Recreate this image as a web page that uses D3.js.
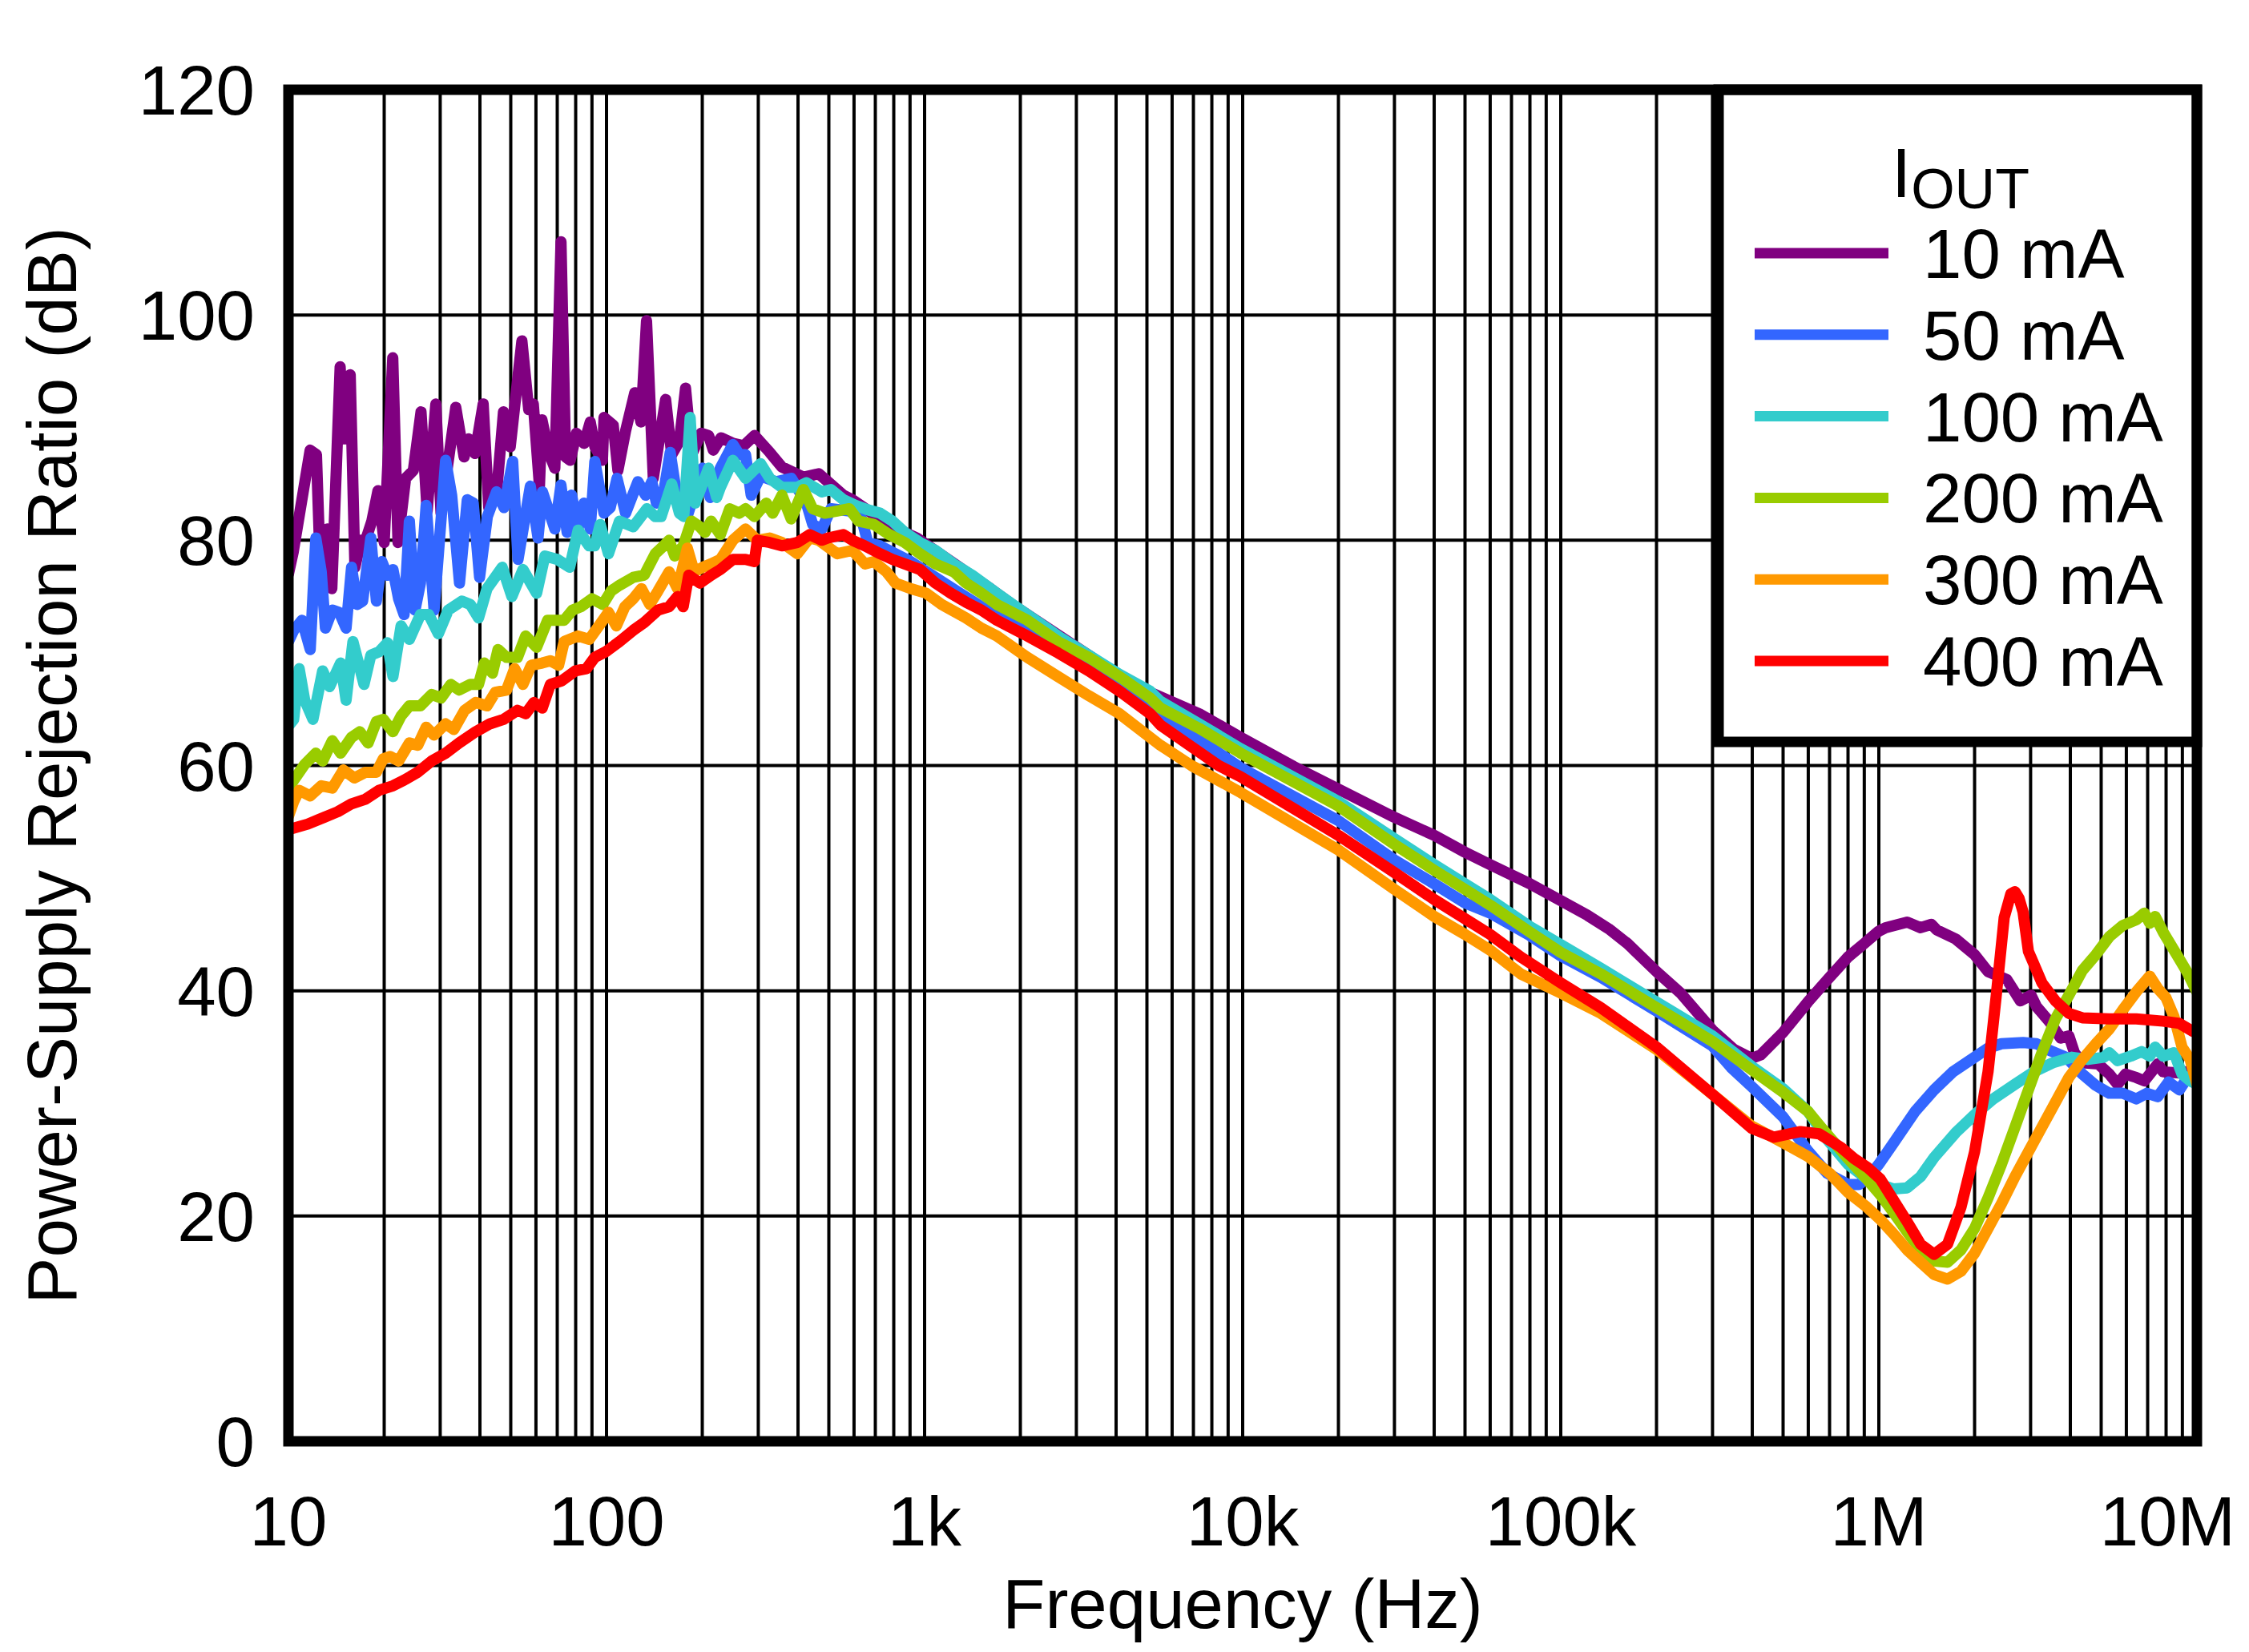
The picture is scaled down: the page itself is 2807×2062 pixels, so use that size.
<!DOCTYPE html>
<html>
<head>
<meta charset="utf-8">
<script src="https://cdn.jsdelivr.net/npm/d3@7"></script>
<style>
  html, body { margin: 0; padding: 0; background: #ffffff; }
  svg { display: block; }
  text { font-family: "Liberation Sans", Arial, sans-serif; fill: #000; }
</style>
</head>
<body>
<svg id="chart" width="2807" height="2062"></svg>
<script>
// ---------------- DATA ----------------
const seriesNames = ["10 mA", "50 mA", "100 mA", "200 mA", "300 mA", "400 mA"];
const seriesColors = ["#800080", "#3366ff", "#33cccc", "#99cc00", "#ff9900", "#ff0000"];
const xTickValues = [10, 100, 1e3, 1e4, 1e5, 1e6, 1e7];
const xTickLabels = ["10", "100", "1k", "10k", "100k", "1M", "10M"];
const yTickValues = [0, 20, 40, 60, 80, 100, 120];
const xTitle = "Frequency (Hz)";
const yTitle = "Power-Supply Rejection Ratio (dB)";

// [frequency Hz, PSRR dB]
const psrr10mA = [[10,77],[10.36,79],[11.7,88.0],[12.25,87.6],[12.66,75.5],[13.24,81.0],[13.69,75.7],[14.54,95.4],[14.96,89.0],[15.64,94.7],[16.18,77.6],[16.91,80.0],[17.48,80.0],[18.29,81.7],[19.12,84.4],[20,79.8],[21.28,96.2],[22.1,79.8],[23.36,85.5],[24.7,86.2],[26.11,91.4],[27.3,82.6],[29.06,92.1],[30.18,82.4],[33.58,91.8],[35.67,87.4],[36.88,89.0],[38.57,87.7],[40.95,92.1],[42.63,82.9],[45.07,84.0],[47.43,91.4],[49.81,88.3],[54.2,97.7],[56.93,91.6],[58.87,92.1],[61.55,84.8],[62.66,90.7],[65.8,87.8],[68.8,86.4],[71.93,106.5],[74.37,87.4],[76.9,87.1],[80.4,89.5],[85,88.6],[88.9,90.5],[91.9,88.3],[97.1,87.1],[98.2,90.9],[105,90.2],[108.6,86.2],[114.8,89.7],[122.7,93.1],[128.3,90.5],[133.6,99.5],[140.3,85.5],[153.4,92.5],[160.3,87.6],[169.5,88.8],[177.2,93.5],[185.3,87.6],[198.2,89.5],[209.4,89.3],[216.6,88.0],[229,89.1],[250,88.6],[270,88.4],[292,89.3],[326,87.8],[356,86.5],[416,85.6],[465,85.9],[555,84.0],[593,83.6],[725,81.9],[866,80.7],[946,80.2],[1612,75.7],[1883,74.3],[3281,69.8],[4097,67.9],[5115,66.5],[6387,65.3],[7297,64.6],[9850,62.5],[14500,59.9],[20000,57.9],[30000,55.4],[40000,53.8],[50000,52.3],[60000,51.2],[80000,49.5],[100000,48.0],[121300,46.7],[141500,45.5],[162000,44.2],[200000,41.7],[238000,39.8],[300000,36.5],[350000,34.8],[398000,34.0],[425000,34.3],[500000,36.3],[598000,39.0],[700000,41.2],[800000,43.0],[900000,44.2],[1000000,45.3],[1050000,45.6],[1227000,46.1],[1353000,45.6],[1463000,45.9],[1521000,45.4],[1744000,44.6],[2000000,43.2],[2204000,41.7],[2526000,41.0],[2785000,39.1],[3010000,39.6],[3130000,38.6],[3450000,37.2],[3730000,35.8],[3958000,36.0],[4120000,34.5],[4363000,33.6],[4900000,33.5],[5303000,32.6],[5630000,31.7],[5960000,32.6],[6446000,32.3],[6835000,32.0],[7530000,33.5],[7836000,32.8],[8810000,32.7],[10000000,33.0]];

const psrr50mA = [[10,71],[10.39,72.0],[11.03,72.9],[11.71,70.3],[12.19,80.2],[12.68,77.2],[13.07,72.2],[13.74,73.8],[14.44,73.6],[15.18,72.2],[15.79,77.6],[16.44,74.3],[17.11,74.6],[18.16,80.2],[18.9,74.6],[19.67,78.1],[20.48,76.9],[21.31,77.4],[22.2,74.8],[23.1,73.4],[24.0,81.7],[25.0,73.8],[26.0,76.2],[27.1,83.1],[28.7,73.8],[31.2,87.1],[32.6,84.0],[34.5,76.2],[36.5,83.6],[38.1,83.3],[39.9,76.7],[42.2,82.1],[45.1,84.3],[47.6,82.9],[50.7,87.0],[52.7,78.3],[57.6,84.8],[60.9,80.2],[62.9,84.3],[68.8,81.0],[71.9,84.9],[75.2,80.7],[77.7,84.0],[81.3,81.0],[85.0,83.3],[88.9,81.0],[91.9,87.0],[98.2,82.4],[102.7,82.9],[107.9,85.5],[114.8,82.4],[125.5,85.2],[132.7,84.0],[138.8,85.2],[143.5,83.3],[151.7,84.5],[158.6,87.8],[167.7,83.3],[179.2,82.1],[200.3,86.4],[211.8,83.8],[228,86.4],[249.6,88.5],[261.5,87.6],[273.6,87.6],[285,84.0],[305,85.7],[341,85.2],[381,85.5],[425,83.3],[445,81.4],[475,81.0],[508,82.8],[580,82.6],[634,81.9],[663,79.8],[725,79.5],[810,78.8],[905,78.1],[1081,76.7],[1291,75.3],[1508,74.1],[1883,72.6],[2351,71.0],[2936,69.4],[3666,67.9],[4578,66.3],[5510,64.5],[7134,62.5],[9850,59.8],[20000,55.1],[30000,51.6],[40000,49.5],[50000,47.8],[60000,46.9],[80000,44.9],[100000,43.1],[133600,41.2],[200000,38.2],[300000,35.1],[343000,33.2],[398000,31.5],[500000,28.8],[598000,25.8],[688000,23.8],[800000,22.8],[867000,22.8],[938000,23.6],[1000000,24.6],[1113000,26.5],[1301000,29.3],[1492000,31.2],[1709000,32.8],[2000000,34.1],[2204000,34.9],[2430000,35.3],[2840000,35.4],[3130000,35.3],[3450000,34.7],[3880000,34.1],[4363000,32.6],[4810000,31.6],[5303000,30.9],[5847000,30.9],[6446000,30.4],[6960000,30.9],[7530000,30.6],[8140000,31.9],[8810000,31.2],[9340000,32.3],[10000000,32.0]];

const psrr100mA = [[10,63.5],[10.39,64.1],[10.81,68.6],[11.25,65.8],[11.94,64.1],[12.81,68.4],[13.47,67.0],[14.59,69.1],[15.18,65.8],[15.95,71.0],[17.28,67.2],[18.16,69.8],[19.28,70.1],[20.48,70.9],[21.31,67.9],[22.6,72.4],[24.0,71.2],[26.0,73.4],[27.6,73.4],[29.6,71.7],[31.8,73.8],[35.1,74.6],[37.3,74.3],[39.6,73.1],[42.1,75.7],[47.0,77.6],[50.4,75.0],[54.6,77.4],[60.3,75.3],[64.0,78.6],[70.0,78.3],[76.6,77.6],[81.4,80.9],[88.2,79.5],[91.8,79.5],[95.5,81.4],[101.4,78.8],[109.8,81.7],[121.3,81.2],[134.0,82.8],[142.3,82.1],[148.5,82.1],[160.3,85.0],[169.5,82.4],[175,82.1],[183.2,90.9],[190,83.3],[209.4,86.4],[222,83.8],[228,84.7],[249.6,87.1],[273.6,85.5],[305,86.8],[326,85.5],[356,84.7],[398,84.7],[425,85.1],[475,84.3],[508,84.5],[555,83.6],[607,83.1],[663,82.7],[725,82.4],[792,81.7],[866,80.7],[967,79.8],[1081,79.1],[1235,77.9],[1411,76.9],[1686,75.3],[2104,73.4],[2627,71.5],[3281,69.8],[4097,68.1],[5115,66.6],[5510,65.7],[7297,63.7],[9850,61.5],[20000,56.8],[30000,53.5],[40000,51.2],[50000,49.5],[60000,48.1],[80000,45.7],[100000,44.1],[133600,42.0],[200000,39.0],[300000,36.0],[398000,33.3],[500000,31.3],[598000,29.3],[688000,26.8],[800000,24.6],[916000,23.3],[1010000,22.8],[1113000,22.4],[1227000,22.5],[1353000,23.5],[1492000,25.2],[1744000,27.4],[2000000,29.0],[2290000,30.4],[2679000,31.7],[3070000,32.8],[3520000,33.6],[4040000,34.1],[4540000,33.9],[5100000,34.1],[5303000,34.5],[5630000,33.8],[6200000,34.2],[6700000,34.6],[7107000,34.2],[7390000,35.0],[7836000,34.2],[8470000,34.5],[8980000,32.6],[9520000,32.0],[10000000,31.7]];

const psrr200mA = [[10,58.0],[10.39,58.7],[11.25,60.1],[12.19,61.1],[12.81,60.4],[13.74,62.2],[14.59,61.1],[15.79,62.5],[16.77,63.0],[17.8,62.0],[18.9,63.9],[19.87,64.1],[21.31,63.0],[22.6,64.4],[24.0,65.3],[26.0,65.3],[28.2,66.3],[30.2,66.0],[32.4,67.2],[34.4,66.7],[37.3,67.2],[39.6,67.2],[41.3,69.1],[43.8,68.2],[45.6,70.3],[48.5,69.6],[52.5,69.6],[55.7,71.5],[60.3,70.5],[65.3,72.9],[73.6,72.9],[78.2,73.8],[83.1,74.1],[90.0,74.8],[97.4,74.3],[103.4,75.5],[109.8,76.0],[121.3,76.7],[131.4,76.9],[142.3,78.8],[151.2,79.5],[157.3,80.0],[163.9,78.6],[174.2,79.5],[184.9,81.7],[196.6,81.2],[204,80.7],[213.2,81.7],[228,80.5],[244,82.8],[261.5,82.4],[273.6,82.8],[291.6,82.1],[318,83.3],[333,82.4],[356,84.0],[380.6,81.9],[416,84.5],[444.6,82.8],[486,82.4],[531,82.6],[580,82.8],[620,81.7],[693,81.4],[775,80.5],[866,79.8],[967,78.8],[1081,77.9],[1235,77.2],[1350,76.2],[1508,75.3],[1686,74.3],[2104,72.9],[2627,71.0],[3281,69.6],[4097,67.9],[5115,66.0],[5510,65.1],[7297,63.3],[9850,61.1],[20000,56.4],[30000,53.0],[40000,50.7],[50000,49.0],[60000,47.6],[80000,45.2],[100000,43.4],[133600,41.5],[200000,38.5],[300000,35.5],[398000,33.0],[500000,31.0],[598000,29.3],[662000,27.8],[800000,25.1],[922000,23.2],[1010000,21.9],[1113000,20.3],[1227000,18.6],[1353000,17.0],[1492000,16.0],[1645000,15.9],[1813000,17.0],[2000000,18.9],[2204000,21.6],[2430000,24.6],[2679000,27.9],[2953000,31.2],[3256000,34.5],[3590000,37.5],[3958000,39.6],[4363000,41.8],[4810000,43.2],[5303000,44.8],[5847000,45.8],[6446000,46.3],[6835000,46.9],[7107000,46.0],[7390000,46.6],[7836000,45.2],[8640000,43.2],[9340000,41.6],[10000000,39.9]];

const psrr300mA = [[10,55.5],[10.39,56.8],[10.81,57.8],[11.71,57.3],[12.68,58.2],[13.74,58.0],[14.88,59.6],[16.12,58.9],[17.45,59.4],[18.9,59.4],[19.87,60.6],[20.89,60.8],[22.2,60.4],[24.0,62.0],[25.5,61.8],[27.1,63.4],[28.7,62.7],[31.2,63.7],[33.1,63.2],[35.8,64.9],[38.8,65.6],[42.1,65.3],[44.7,66.5],[48.5,66.7],[51.4,68.6],[54.6,67.2],[58.0,68.9],[62.8,69.1],[66.6,69.3],[70.7,68.9],[73.6,71.0],[81.4,71.5],[88.2,71.2],[93.6,72.2],[101.4,73.6],[107.4,72.4],[114.2,74.1],[121.3,74.8],[128.8,75.7],[136.8,74.3],[145.2,75.5],[157.3,77.2],[167.3,75.7],[179.5,79.3],[188.7,77.2],[200.6,77.6],[213.2,77.9],[228,78.3],[249.6,80.0],[273.6,81.0],[298,80.0],[326,80.2],[356,79.8],[398,78.8],[435,80.2],[465,80.0],[531,78.8],[593,79.1],[649,77.9],[693,78.1],[758,77.2],[810,76.2],[905,75.7],[1011,75.3],[1130,74.3],[1350,73.1],[1508,72.2],[1686,71.5],[2104,69.6],[2627,67.9],[3281,66.2],[4097,64.6],[5510,61.8],[6900,60.0],[9850,57.6],[20000,52.5],[30000,49.0],[40000,46.6],[50000,45.0],[60000,43.6],[74800,41.5],[100000,39.8],[133600,38.0],[200000,34.8],[300000,30.8],[398000,28.0],[500000,26.5],[598000,25.3],[700000,23.8],[800000,22.1],[916000,20.8],[1010000,19.7],[1113000,18.4],[1227000,17.0],[1353000,15.9],[1492000,14.8],[1645000,14.4],[1813000,15.1],[2000000,16.7],[2204000,18.9],[2430000,21.1],[2679000,23.5],[2953000,25.7],[3256000,27.9],[3590000,30.1],[3958000,32.3],[4363000,33.9],[4810000,35.3],[5303000,36.6],[5847000,38.3],[6446000,39.9],[7107000,41.3],[7530000,40.2],[7990000,39.4],[8470000,37.7],[8980000,35.0],[9520000,33.9],[10000000,31.7]];

const psrr400mA = [[10,54.3],[11.5,54.8],[12.94,55.4],[14.3,55.9],[15.79,56.6],[17.45,57.0],[19.28,57.8],[21.31,58.2],[23.1,58.7],[25.5,59.4],[28.2,60.4],[31.2,61.1],[34.4,62.0],[38.8,63.0],[43.0,63.7],[47.5,64.1],[52.5,64.9],[55.7,64.6],[59.1,65.6],[62.8,65.1],[66.6,67.2],[72.1,67.5],[79.8,68.4],[86.5,68.6],[91.8,69.6],[99.4,70.1],[109.8,71.0],[121.3,72.0],[131.4,72.7],[145.2,73.8],[157.3,74.1],[167.3,75.0],[174.2,74.1],[181.3,76.9],[196.6,76.2],[213.2,76.9],[228,77.4],[249.6,78.3],[273.6,78.3],[291.6,78.1],[298,80.0],[326,79.8],[356,79.5],[398,79.8],[435,80.5],[475,80.0],[497,80.2],[555,80.5],[593,80.0],[649,79.5],[725,78.8],[792,78.3],[866,77.9],[967,77.4],[1081,76.2],[1208,75.3],[1350,74.5],[1508,73.8],[1686,72.9],[2104,71.5],[2627,70.0],[3281,68.4],[4097,66.6],[5115,64.6],[5510,63.6],[8400,60.0],[9850,59.0],[20000,53.8],[30000,50.5],[40000,48.1],[50000,46.4],[60000,45.0],[74800,43.0],[100000,40.7],[133600,38.5],[200000,35.0],[300000,30.8],[398000,27.8],[468000,27.0],[567000,27.5],[649000,27.3],[760000,26.1],[836000,25.1],[922000,24.3],[1010000,23.3],[1113000,21.4],[1227000,19.5],[1353000,17.5],[1492000,16.6],[1645000,17.5],[1813000,20.8],[2000000,25.7],[2204000,32.8],[2336000,39.4],[2478000,46.5],[2600000,48.6],[2679000,48.8],[2760000,48.2],[2840000,47.0],[2953000,43.5],[3256000,40.7],[3590000,39.1],[3958000,38.0],[4363000,37.6],[5303000,37.5],[6446000,37.5],[7836000,37.3],[8810000,37.1],[9700000,36.4],[10000000,36.3]];

const seriesData = [psrr10mA, psrr50mA, psrr100mA, psrr200mA, psrr300mA, psrr400mA];

// ---------------- LAYOUT ----------------
const svg = d3.select("#chart");
const plotL = 360, plotR = 2742, plotT = 112, plotB = 1799;
const FS = 87;

const x = d3.scaleLog().domain([10, 1e7]).range([plotL, plotR]);
const y = d3.scaleLinear().domain([0, 120]).range([plotB, plotT]);

svg.append("rect").attr("width", 2807).attr("height", 2062).attr("fill", "#fff");

// grid
const minorFreqs = [];
for (let d = 10; d < 1e7; d *= 10) {
  for (let k = 1; k <= 9; k++) minorFreqs.push(k * d);
}
const grid = svg.append("g");
grid.selectAll("line.v").data(minorFreqs).enter().append("line")
  .attr("x1", d => x(d)).attr("x2", d => x(d))
  .attr("y1", plotT).attr("y2", plotB)
  .attr("stroke", "#000").attr("stroke-width", 4);
grid.selectAll("line.h").data(yTickValues.slice(1, -1)).enter().append("line")
  .attr("x1", plotL).attr("x2", plotR)
  .attr("y1", d => y(d)).attr("y2", d => y(d))
  .attr("stroke", "#000").attr("stroke-width", 4);

// clip
svg.append("clipPath").attr("id", "plotclip").append("rect")
  .attr("x", plotL).attr("y", plotT).attr("width", plotR - plotL).attr("height", plotB - plotT);

const line = d3.line().x(d => x(d[0])).y(d => y(d[1])).curve(d3.curveLinear);
const lines = svg.append("g").attr("clip-path", "url(#plotclip)");
seriesData.forEach((s, i) => {
  lines.append("path").datum(s)
    .attr("d", line)
    .attr("fill", "none")
    .attr("stroke", seriesColors[i])
    .attr("stroke-width", 14)
    .attr("stroke-linejoin", "round")
    .attr("stroke-linecap", "round");
});

// legend
const legL = 2145, legT = plotT, legR = plotR, legB = 926;
svg.append("rect").attr("x", legL).attr("y", legT).attr("width", legR - legL).attr("height", legB - legT)
  .attr("fill", "#fff").attr("stroke", "#000").attr("stroke-width", 13);
const legTitle = svg.append("text").attr("x", 2361).attr("y", 246).attr("font-size", FS);
legTitle.append("tspan").text("I");
legTitle.append("tspan").attr("font-size", 70).attr("dy", 14).text("OUT");
const legY0 = 316, legDy = 101.8;
seriesNames.forEach((n, i) => {
  const yy = legY0 + i * legDy;
  svg.append("line").attr("x1", 2190).attr("x2", 2357).attr("y1", yy).attr("y2", yy)
    .attr("stroke", seriesColors[i]).attr("stroke-width", 13);
  svg.append("text").attr("x", 2400).attr("y", yy + 31).attr("font-size", FS).text(n);
});

// frame
svg.append("rect").attr("x", plotL).attr("y", plotT).attr("width", plotR - plotL).attr("height", plotB - plotT)
  .attr("fill", "none").attr("stroke", "#000").attr("stroke-width", 13);

// x tick labels
xTickValues.forEach((v, i) => {
  const last = i === xTickValues.length - 1;
  svg.append("text")
    .attr("x", last ? 2790 : x(v))
    .attr("y", 1929)
    .attr("text-anchor", last ? "end" : "middle")
    .attr("font-size", FS)
    .text(xTickLabels[i]);
});
// y tick labels
yTickValues.forEach(v => {
  svg.append("text").attr("x", 318).attr("y", y(v) + 31)
    .attr("text-anchor", "end").attr("font-size", FS).text(String(v));
});

// titles
svg.append("text").attr("x", (plotL + plotR) / 2).attr("y", 2032)
  .attr("text-anchor", "middle").attr("font-size", FS).text(xTitle);
svg.append("text").attr("transform", `translate(95, ${(plotT + plotB) / 2}) rotate(-90)`)
  .attr("text-anchor", "middle").attr("font-size", FS).text(yTitle);
</script>
</body>
</html>
